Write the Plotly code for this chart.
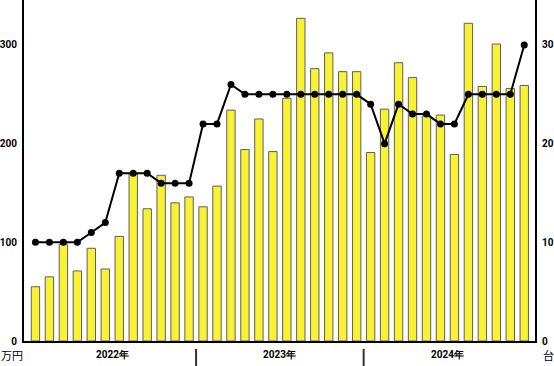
import plotly.graph_objects as go

months = list(range(36))
sales = [55, 65, 98, 71, 94, 73, 106, 170, 134, 168, 140, 146,
         136, 157, 234, 194, 225, 192, 246, 327, 276, 292, 273, 273,
         191, 235, 282, 267, 228, 229, 189, 322, 258, 301, 256, 259]
units = [10, 10, 10, 10, 11, 12, 17, 17, 17, 16, 16, 16,
         22, 22, 26, 25, 25, 25, 25, 25, 25, 25, 25, 25,
         24, 20, 24, 23, 23, 22, 22, 25, 25, 25, 25, 30]
year_labels = ["2022年", "2023年", "2024年"]
left_ticks = [0, 100, 200, 300]
right_ticks = [0, 10, 20, 30]

FONT = "Roboto, Liberation Sans, Arial"
TF = dict(family=FONT, size=10, color="black", weight="bold")

fig = go.Figure()
fig.add_trace(go.Bar(
    x=months, y=sales, width=0.6,
    marker=dict(color="#f8f232", line=dict(color="#5e5e6a", width=1)),
    yaxis="y", showlegend=False,
))
fig.add_trace(go.Scatter(
    x=months, y=units, mode="lines+markers",
    line=dict(color="#000000", width=2),
    marker=dict(color="#000000", size=7),
    yaxis="y2", showlegend=False,
))

fig.update_layout(
    width=554, height=366,
    margin=dict(l=24, r=19, t=0, b=25, autoexpand=False),
    paper_bgcolor="white", plot_bgcolor="white",
    xaxis=dict(range=[-0.82, 35.77], showticklabels=False, showgrid=False,
               zeroline=False, showline=True, linecolor="black", linewidth=2,
               ticks="", automargin=False),
    yaxis=dict(range=[0, 345.6], tickvals=left_ticks, showgrid=False,
               zeroline=False, showline=True, linecolor="black", linewidth=2,
               ticks="", ticklabelstandoff=3, automargin=False, tickfont=TF),
    yaxis2=dict(range=[0, 34.56], tickvals=right_ticks, overlaying="y",
                side="right", showgrid=False, zeroline=False, showline=True,
                linecolor="black", linewidth=2, ticks="", ticklabelstandoff=3,
                automargin=False, tickfont=TF),
)

for i, lab in enumerate(year_labels):
    fig.add_annotation(x=5.5 + 12 * i, y=-0.041, xref="x", yref="paper",
                       text=lab, showarrow=False, yanchor="middle", font=TF)
for xs in [11.5, 23.5]:
    fig.add_shape(type="line", xref="x", yref="paper", x0=xs, x1=xs,
                  y0=-0.023, y1=-0.075, line=dict(color="#333333", width=2))

fig.add_annotation(x=0, xshift=-25, y=-0.041, xref="paper", yref="paper",
                   text="万円", showarrow=False, xanchor="left", yanchor="middle",
                   font=dict(family="Noto Sans CJK JP", size=11, color="black"))
fig.add_annotation(x=1, xshift=6, y=-0.041, xref="paper", yref="paper",
                   text="台", showarrow=False, xanchor="left", yanchor="middle",
                   font=dict(family="Noto Sans CJK JP", size=11, color="black"))

fig.write_html("out.html", config={"displayModeBar": False},
               post_script="document.body.style.margin='0';document.body.style.overflow='hidden';")
